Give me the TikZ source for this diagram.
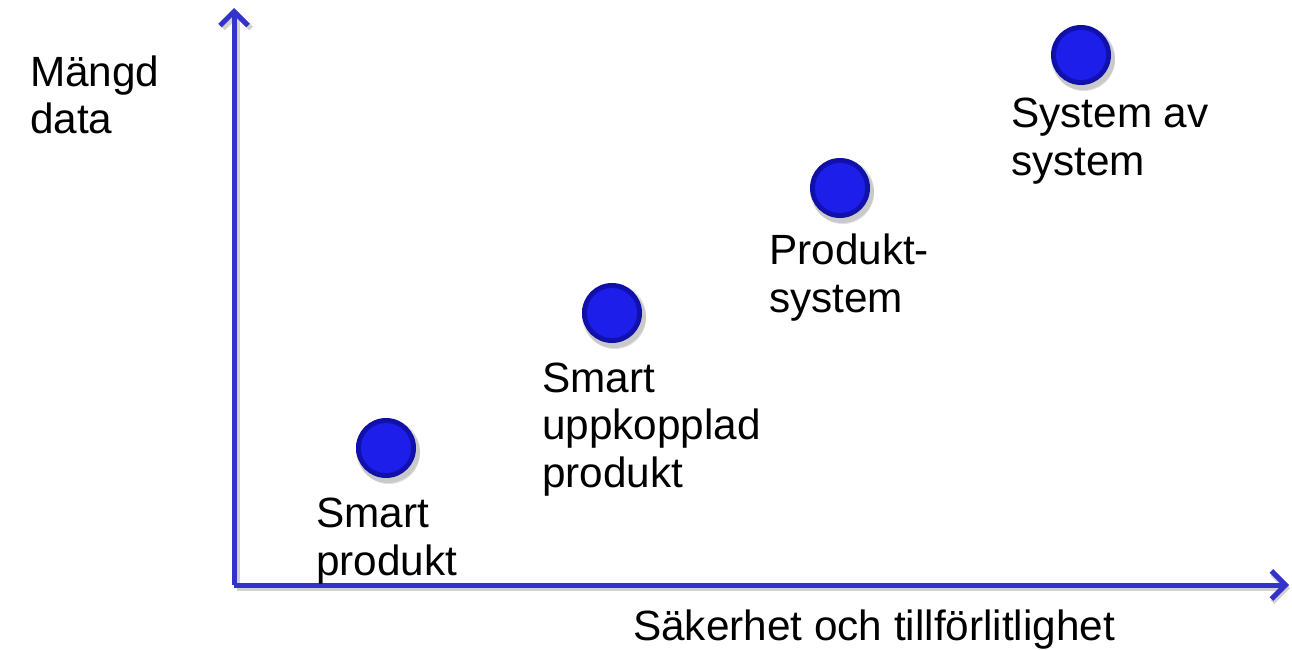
\documentclass[tikz,border=0pt]{standalone}
\usepackage{fontspec}
\setmainfont{Liberation Sans}
\usetikzlibrary{arrows.meta}
\definecolor{axisblue}{RGB}{51,51,204}
\definecolor{ballin}{RGB}{30,30,235}
\definecolor{ballout}{RGB}{15,15,165}
\tikzset{
  axisline/.style={line width=5pt, color=axisblue, -{Straight Barb[length=14pt,width=28pt,line width=5pt]}},
  axisshadow/.style={line width=5pt, color=black, opacity=0.18, -{Straight Barb[length=14pt,width=28pt,line width=5pt]}},
  lbl/.style={anchor=base west, inner sep=0pt, align=left, font=\fontsize{42.3}{47.5}\selectfont},
}
\newcommand{\myball}[2]{%
  \fill[black, opacity=0.12] (#1+3,#2+5) circle (31);
  \fill[black, opacity=0.10] (#1+2,#2+3) circle (32);
  \shade[inner color=ballin, outer color=ballout] (#1,#2) circle (30);
  \fill[ballin] (#1,#2) circle (25);
}
\begin{document}
\begin{tikzpicture}[x=1pt,y=-1pt]
\useasboundingbox (0,0) rectangle (1292,650);
\coordinate (O) at (234,585);
\coordinate (Ytip) at (234,8);
\coordinate (Xtip) at (1289,585);
\coordinate (Os) at (237,588);
\coordinate (Ys) at (237,11);
\coordinate (Xs) at (1290,588);
\draw[axisshadow] (Os) -- (Ys);
\draw[axisshadow] (Os) -- (Xs);
\draw[axisline] (O) -- (Ytip);
\draw[axisline] (O) -- (Xtip);
\myball{386}{448}
\myball{612}{313}
\myball{840}{188}
\myball{1081}{55}
\node[lbl] (ylab) at (30,134) {Mängd\\data};
\node[lbl] (b1) at (316,575) {Smart\\produkt};
\node[lbl] (b2) at (542,487) {Smart\\uppkopplad\\produkt};
\node[lbl] (b3) at (769,312) {Produkt-\\system};
\node[lbl] (b4) at (1011,175) {System av\\system};
\node[lbl] (xlab) at (633,640) {Säkerhet och tillförlitlighet};
\end{tikzpicture}
\end{document}
